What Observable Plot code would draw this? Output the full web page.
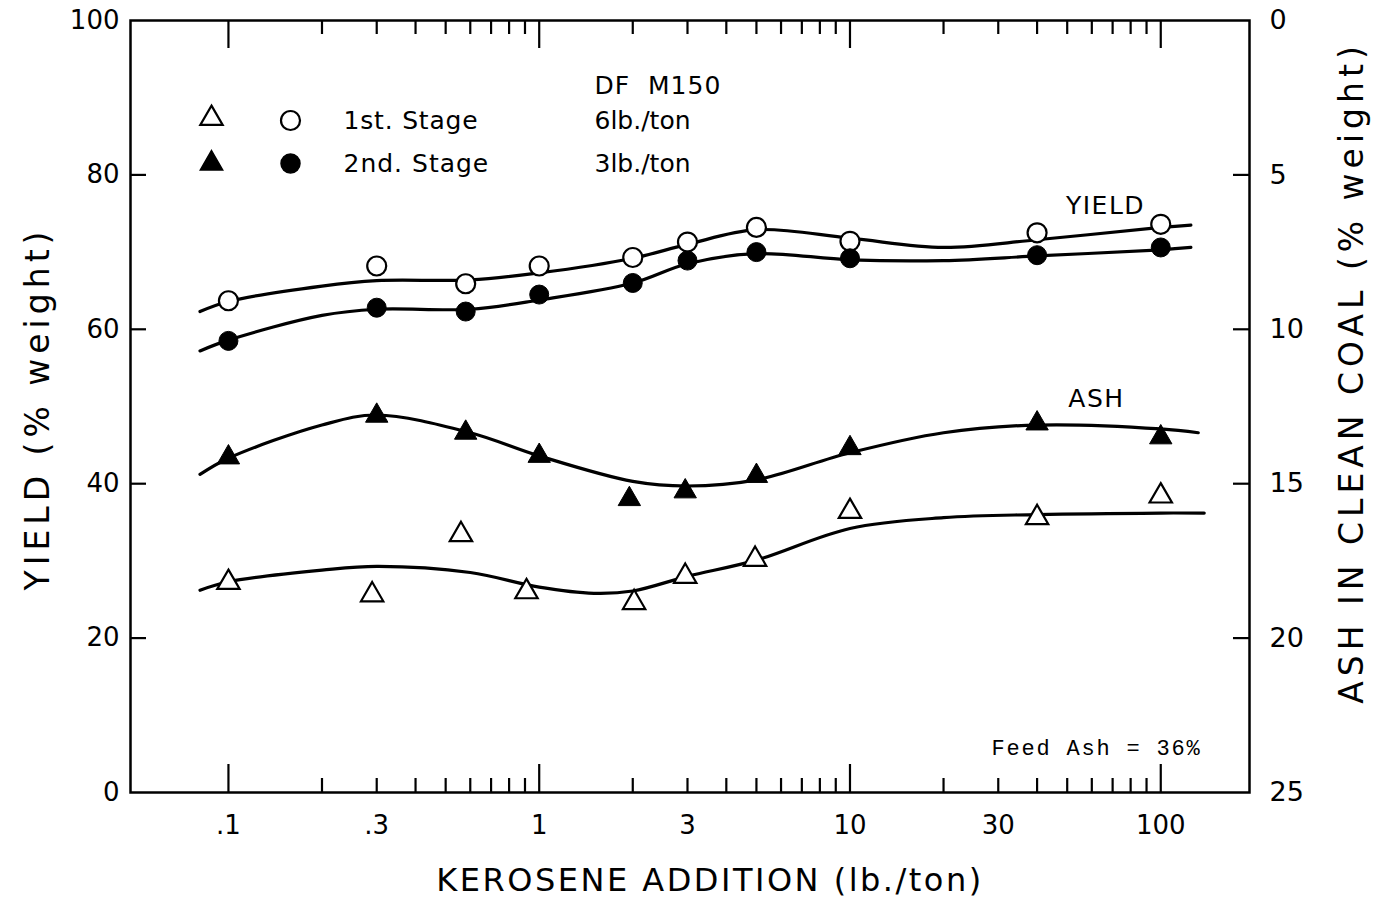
<!DOCTYPE html>
<html><head><meta charset="utf-8">
<script src="https://cdn.jsdelivr.net/npm/d3@7"></script>
<script src="https://cdn.jsdelivr.net/npm/@observablehq/plot@0.6"></script>
<style>html,body{margin:0;padding:0;background:#fff;}</style>
</head><body><div id="chart"></div>
<script>
// ---- data ----
// measured points (yield in % weight, left axis; ash in % weight, right axis)
const yieldX      = [0.1, 0.3, 0.58, 1, 2, 3, 5, 10, 40, 100];
const yield1st    = [63.7, 68.2, 65.9, 68.2, 69.3, 71.3, 73.2, 71.4, 72.5, 73.6];
const yield2nd    = [58.5, 62.8, 62.3, 64.5, 66.0, 68.9, 70.0, 69.2, 69.6, 70.6];
const ash2ndX     = [0.1, 0.3, 0.58, 1, 1.95, 2.95, 5, 10, 40, 100];
const ash2nd      = [14.15, 12.8, 13.35, 14.1, 15.5, 15.25, 14.75, 13.85, 13.05, 13.5];
const ash1stX     = [0.1, 0.29, 0.56, 0.91, 2.02, 2.95, 4.95, 10, 40, 100];
const ash1st      = [18.2, 18.6, 16.65, 18.5, 18.85, 18.0, 17.45, 15.9, 16.1, 15.4];

// hand-drawn fitted curves
const yieldFitX   = [0.081, 0.1, 0.2, 0.3, 0.6, 1, 2, 3, 5, 10, 20, 40, 100, 125];
const yield1Fit   = [62.3, 63.6, 65.6, 66.3, 66.4, 67.3, 69.2, 71.0, 72.9, 71.8, 70.6, 71.6, 73.2, 73.5];
const yield2Fit   = [57.2, 58.6, 61.8, 62.6, 62.6, 63.8, 66.0, 68.5, 69.8, 69.0, 68.9, 69.5, 70.3, 70.6];
const ash2FitX    = [0.081, 0.1, 0.2, 0.3, 0.6, 1, 2, 3, 5, 10, 20, 40, 100, 132];
const ash2Fit     = [14.7, 14.175, 13.1, 12.775, 13.35, 14.1, 14.925, 15.075, 14.875, 14.0, 13.35, 13.1, 13.225, 13.35];
const ash1FitX    = [0.081, 0.1, 0.2, 0.3, 0.6, 1, 1.5, 2, 3, 5, 10, 20, 40, 100, 138];
const ash1Fit     = [18.45, 18.175, 17.8, 17.675, 17.875, 18.35, 18.55, 18.475, 18.0, 17.475, 16.45, 16.1, 16.0, 15.95, 15.95];

// axes
const xTickValues = [0.1, 0.3, 1, 3, 10, 30, 100];
const xTickLabels = [".1", ".3", "1", "3", "10", "30", "100"];
const xMajorTicks = [0.1, 1, 10, 100];
const xMinorTicks = [0.2, 0.3, 0.4, 0.5, 0.6, 0.7, 0.8, 0.9, 2, 3, 4, 5, 6, 7, 8, 9, 20, 30, 40, 50, 60, 70, 80, 90];
const yTickValues = [0, 20, 40, 60, 80, 100];
const yInnerTicks = [20, 40, 60, 80];
const ashTickValues = [0, 5, 10, 15, 20, 25];
const ashInnerTicks = [5, 10, 15, 20];
const ASH_MAX = 25, YIELD_MAX = 100;

// ---- layout ----
const W = 1377, H = 899;
const mL = 130, mR = 128, mT = 20, mB = 107;
const fW = W - mL - mR, fH = H - mT - mB;
const ashToY = a => (ASH_MAX - a) * (YIELD_MAX / ASH_MAX);
const rows = (xs, ys, f = v => v) => xs.map((x, i) => ({x, y: f(ys[i])}));
const SANS = "DejaVu Sans";

const lineOpts = {x: "x", y: "y", curve: "catmull-rom", stroke: "black", strokeWidth: 3.2};
const openDot = {x: "x", y: "y", fill: "white", stroke: "black", strokeWidth: 2.2};
const fillDot = {x: "x", y: "y", fill: "black", stroke: "black", strokeWidth: 1};
const R_CIRC = 9.5, R_TRI = 8.3;

const txt = (s, o) => Plot.text([s], {text: d => d, fontFamily: SANS, fill: "black", ...o});

const chart = Plot.plot({
  width: W, height: H,
  marginLeft: mL, marginRight: mR, marginTop: mT, marginBottom: mB,
  style: {background: "white", fontFamily: SANS, color: "black"},
  x: {type: "log", domain: [0.0484, 193], axis: null},
  y: {domain: [0, YIELD_MAX], axis: null},
  marks: [
    Plot.frame({stroke: "black", strokeWidth: 2.5}),
    // inward ticks: bottom / top
    Plot.ruleX(xMajorTicks, {x: d => d, insetTop: fH - 28, strokeWidth: 2.2}),
    Plot.ruleX(xMinorTicks, {x: d => d, insetTop: fH - 14, strokeWidth: 2.2}),
    Plot.ruleX(xMajorTicks, {x: d => d, insetBottom: fH - 28, strokeWidth: 2.2}),
    Plot.ruleX(xMinorTicks, {x: d => d, insetBottom: fH - 14, strokeWidth: 2.2}),
    // inward ticks: left / right
    Plot.ruleY(yInnerTicks, {y: d => d, insetRight: fW - 16, strokeWidth: 2.2}),
    Plot.ruleY(ashInnerTicks, {y: d => ashToY(d), insetLeft: fW - 16, strokeWidth: 2.2}),
    // tick labels
    Plot.text(xTickValues, {x: d => d, text: (d, i) => xTickLabels[i], frameAnchor: "bottom", dy: 33, textAnchor: "middle", lineAnchor: "middle", fontSize: 26, fontFamily: SANS}),
    Plot.text(yTickValues, {y: d => d, text: d => String(d), frameAnchor: "left", dx: -11, textAnchor: "end", lineAnchor: "middle", fontSize: 26, fontFamily: SANS}),
    Plot.text(ashTickValues, {y: d => ashToY(d), text: d => String(d), frameAnchor: "right", dx: 20, textAnchor: "start", lineAnchor: "middle", fontSize: 27, fontFamily: SANS}),
    // axis titles
    txt("KEROSENE ADDITION (lb./ton)", {frameAnchor: "bottom", dx: 20, dy: 88, textAnchor: "middle", lineAnchor: "middle", fontSize: 32}),
    txt("YIELD (% weight)", {frameAnchor: "left", dx: -92, dy: 2, rotate: -90, textAnchor: "middle", lineAnchor: "middle", fontSize: 33}),
    txt("ASH IN CLEAN COAL (% weight)", {frameAnchor: "right", dx: 103, dy: -34, rotate: -90, textAnchor: "middle", lineAnchor: "middle", fontSize: 33}),
    // curves
    Plot.line(rows(yieldFitX, yield1Fit), lineOpts),
    Plot.line(rows(yieldFitX, yield2Fit), lineOpts),
    Plot.line(rows(ash2FitX, ash2Fit, ashToY), lineOpts),
    Plot.line(rows(ash1FitX, ash1Fit, ashToY), lineOpts),
    // points
    Plot.dot(rows(yieldX, yield1st), {...openDot, r: R_CIRC}),
    Plot.dot(rows(yieldX, yield2nd), {...fillDot, r: R_CIRC}),
    Plot.dot(rows(ash2ndX, ash2nd, ashToY), {...fillDot, r: R_TRI, symbol: "triangle"}),
    Plot.dot(rows(ash1stX, ash1st, ashToY), {...openDot, r: R_TRI, symbol: "triangle"}),
    // legend
    Plot.dot([0], {frameAnchor: "top-left", dx: 81, dy: 98, symbol: "triangle", r: R_TRI, fill: "white", stroke: "black", strokeWidth: 2.2}),
    Plot.dot([0], {frameAnchor: "top-left", dx: 160, dy: 100, r: R_CIRC, fill: "white", stroke: "black", strokeWidth: 2.2}),
    Plot.dot([0], {frameAnchor: "top-left", dx: 81, dy: 143, symbol: "triangle", r: R_TRI, fill: "black", stroke: "black"}),
    Plot.dot([0], {frameAnchor: "top-left", dx: 160, dy: 143, r: R_CIRC, fill: "black", stroke: "black"}),
    txt("1st. Stage", {frameAnchor: "top-left", dx: 213, dy: 100, textAnchor: "start", lineAnchor: "middle", fontSize: 25}),
    txt("2nd. Stage", {frameAnchor: "top-left", dx: 213, dy: 143, textAnchor: "start", lineAnchor: "middle", fontSize: 25}),
    txt("DF  M150", {frameAnchor: "top-left", dx: 464, dy: 65, textAnchor: "start", lineAnchor: "middle", fontSize: 25}),
    txt("6lb./ton", {frameAnchor: "top-left", dx: 464, dy: 100, textAnchor: "start", lineAnchor: "middle", fontSize: 25}),
    txt("3lb./ton", {frameAnchor: "top-left", dx: 464, dy: 143, textAnchor: "start", lineAnchor: "middle", fontSize: 25}),
    // curve labels & note
    txt("YIELD", {frameAnchor: "top-left", dx: 975, dy: 185, textAnchor: "middle", lineAnchor: "middle", fontSize: 25}),
    txt("ASH", {frameAnchor: "top-left", dx: 966, dy: 378, textAnchor: "middle", lineAnchor: "middle", fontSize: 25}),
    txt("Feed Ash = 36%", {frameAnchor: "top-left", dx: 861, dy: 727, textAnchor: "start", lineAnchor: "middle", fontSize: 22, fontFamily: "Liberation Mono"})
  ]
});

// letter spacing tweaks for wide-set lettering
const spacing = {
  "KEROSENE ADDITION (lb./ton)": 2.5,
  "YIELD (% weight)": 5,
  "ASH IN CLEAN COAL (% weight)": 5,
  "2nd. Stage": 1,
  "1st. Stage": 0.8,
  "DF  M150": 1,
  "Feed Ash = 36%": 1.8,
  "YIELD": 1.5,
  "ASH": 1.5
};
d3.select(chart).selectAll("text").each(function() {
  const s = spacing[this.textContent];
  if (s != null) this.setAttribute("letter-spacing", s);
});
document.getElementById("chart").appendChild(chart);
</script>
</body></html>
